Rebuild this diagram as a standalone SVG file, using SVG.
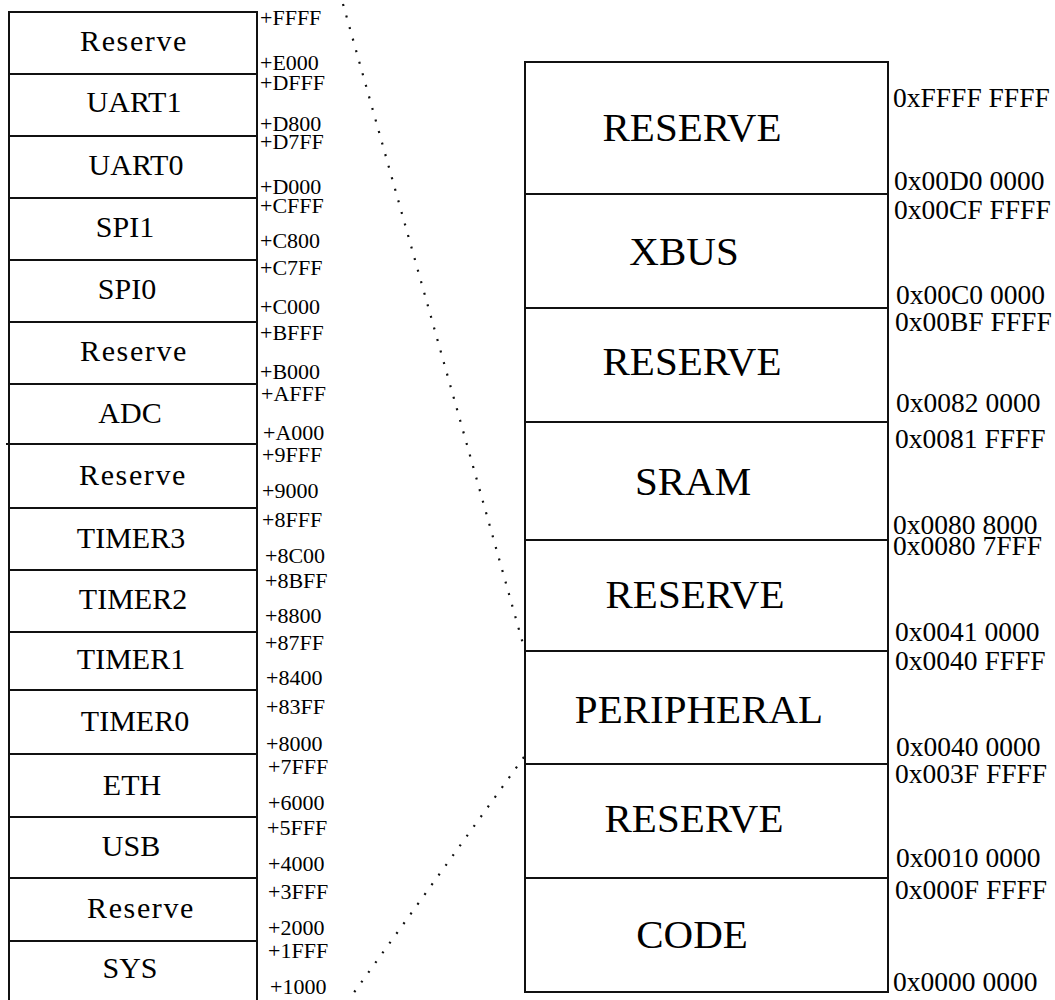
<svg xmlns="http://www.w3.org/2000/svg" width="1055" height="1000" viewBox="0 0 1055 1000">
<style>
.cell{fill:#fff;stroke:#111;stroke-width:2}
.t{font-family:"Liberation Serif","Times New Roman",serif;fill:#000}
.lbl{font-size:30px;text-anchor:middle}
.lc{letter-spacing:1.6px}
.addr{font-size:22px}
.big{font-size:41px;text-anchor:middle}
.raddr{font-size:27.5px}
.dots{fill:none;stroke:#111;stroke-width:2.2;stroke-dasharray:2 10}
</style>
<rect width="1055" height="1000" fill="#fff"/>
<g id="connectors">
<line class="dots" x1="343" y1="4" x2="525" y2="651"/>
<line class="dots" x1="524" y1="757" x2="350" y2="998"/>
</g>
<g id="left-map">
<g id="l-reserve-e"><rect class="cell" x="9" y="12" width="248" height="62"/><text class="t lbl lc" x="134" y="51">Reserve</text><text class="t addr" x="260" y="25">+FFFF</text><text class="t addr" x="260" y="70">+E000</text></g>
<g id="l-uart1"><rect class="cell" x="9" y="74" width="248" height="62"/><text class="t lbl" x="134" y="112">UART1</text><text class="t addr" x="260" y="90">+DFFF</text><text class="t addr" x="260" y="131">+D800</text></g>
<g id="l-uart0"><rect class="cell" x="9" y="136" width="248" height="62"/><text class="t lbl" x="136" y="175">UART0</text><text class="t addr" x="260" y="149">+D7FF</text><text class="t addr" x="260" y="194">+D000</text></g>
<g id="l-spi1"><rect class="cell" x="9" y="198" width="248" height="62"/><text class="t lbl" x="125" y="237">SPI1</text><text class="t addr" x="260" y="213">+CFFF</text><text class="t addr" x="260" y="248">+C800</text></g>
<g id="l-spi0"><rect class="cell" x="9" y="260" width="248" height="62"/><text class="t lbl" x="127" y="299">SPI0</text><text class="t addr" x="260" y="275">+C7FF</text><text class="t addr" x="260" y="314">+C000</text></g>
<g id="l-reserve-b"><rect class="cell" x="9" y="322" width="248" height="62"/><text class="t lbl lc" x="134" y="361">Reserve</text><text class="t addr" x="260" y="340">+BFFF</text><text class="t addr" x="260" y="379">+B000</text></g>
<g id="l-adc"><rect class="cell" x="9" y="384" width="248" height="60"/><text class="t lbl" x="130" y="423">ADC</text><text class="t addr" x="261" y="401">+AFFF</text><text class="t addr" x="263" y="440">+A000</text></g>
<g id="l-reserve-9"><rect class="cell" x="9" y="444" width="248" height="64"/><line x1="6" y1="444" x2="9" y2="444" stroke="#111" stroke-width="2"/><text class="t lbl lc" x="133" y="485">Reserve</text><text class="t addr" x="262" y="462">+9FFF</text><text class="t addr" x="262" y="498">+9000</text></g>
<g id="l-timer3"><rect class="cell" x="9" y="508" width="248" height="62"/><text class="t lbl" x="131" y="548">TIMER3</text><text class="t addr" x="262" y="527">+8FFF</text><text class="t addr" x="265" y="563">+8C00</text></g>
<g id="l-timer2"><rect class="cell" x="9" y="570" width="248" height="62"/><text class="t lbl" x="133" y="609">TIMER2</text><text class="t addr" x="265" y="588">+8BFF</text><text class="t addr" x="265" y="623">+8800</text></g>
<g id="l-timer1"><rect class="cell" x="9" y="632" width="248" height="58"/><text class="t lbl" x="131" y="669">TIMER1</text><text class="t addr" x="265" y="650">+87FF</text><text class="t addr" x="266" y="685">+8400</text></g>
<g id="l-timer0"><rect class="cell" x="9" y="690" width="248" height="64"/><text class="t lbl" x="135" y="731">TIMER0</text><text class="t addr" x="266" y="714">+83FF</text><text class="t addr" x="266" y="751">+8000</text></g>
<g id="l-eth"><rect class="cell" x="9" y="754" width="248" height="63"/><text class="t lbl" x="132" y="795">ETH</text><text class="t addr" x="268" y="774">+7FFF</text><text class="t addr" x="268" y="810">+6000</text></g>
<g id="l-usb"><rect class="cell" x="9" y="817" width="248" height="61"/><text class="t lbl" x="131" y="856">USB</text><text class="t addr" x="267" y="835">+5FFF</text><text class="t addr" x="268" y="871">+4000</text></g>
<g id="l-reserve-2"><rect class="cell" x="9" y="878" width="248" height="63"/><text class="t lbl lc" x="141" y="918">Reserve</text><text class="t addr" x="268" y="899">+3FFF</text><text class="t addr" x="268" y="935">+2000</text></g>
<g id="l-sys"><rect class="cell" x="9" y="941" width="248" height="62"/><text class="t lbl" x="130" y="978">SYS</text><text class="t addr" x="268" y="958">+1FFF</text><text class="t addr" x="270" y="994">+1000</text></g>
</g>
<g id="right-map">
<g id="r-reserve-top"><rect class="cell" x="525" y="62" width="363" height="132"/><text class="t big" x="692" y="141">RESERVE</text><text class="t raddr" x="893" y="107">0xFFFF FFFF</text><text class="t raddr" x="894" y="190">0x00D0 0000</text></g>
<g id="r-xbus"><rect class="cell" x="525" y="194" width="363" height="114"/><text class="t big" x="684" y="265">XBUS</text><text class="t raddr" x="894" y="219">0x00CF FFFF</text><text class="t raddr" x="896" y="304">0x00C0 0000</text></g>
<g id="r-reserve-2"><rect class="cell" x="525" y="308" width="363" height="114"/><text class="t big" x="692" y="375">RESERVE</text><text class="t raddr" x="895" y="331">0x00BF FFFF</text><text class="t raddr" x="896" y="412">0x0082 0000</text></g>
<g id="r-sram"><rect class="cell" x="525" y="422" width="363" height="118"/><text class="t big" x="693" y="495">SRAM</text><text class="t raddr" x="895" y="448">0x0081 FFFF</text><text class="t raddr" x="893" y="534">0x0080 8000</text></g>
<g id="r-reserve-3"><rect class="cell" x="525" y="540" width="363" height="111"/><text class="t big" x="695" y="608">RESERVE</text><text class="t raddr" x="893" y="555">0x0080 7FFF</text><text class="t raddr" x="895" y="641">0x0041 0000</text></g>
<g id="r-peripheral"><rect class="cell" x="525" y="651" width="363" height="113"/><text class="t big" x="699" y="723">PERIPHERAL</text><text class="t raddr" x="895" y="670">0x0040 FFFF</text><text class="t raddr" x="896" y="756">0x0040 0000</text></g>
<g id="r-reserve-4"><rect class="cell" x="525" y="764" width="363" height="114"/><text class="t big" x="694" y="832">RESERVE</text><text class="t raddr" x="895" y="783">0x003F FFFF</text><text class="t raddr" x="896" y="867">0x0010 0000</text></g>
<g id="r-code"><rect class="cell" x="525" y="878" width="363" height="114"/><text class="t big" x="692" y="948">CODE</text><text class="t raddr" x="895" y="899">0x000F FFFF</text><text class="t raddr" x="893" y="991">0x0000 0000</text></g>
</g>
</svg>
